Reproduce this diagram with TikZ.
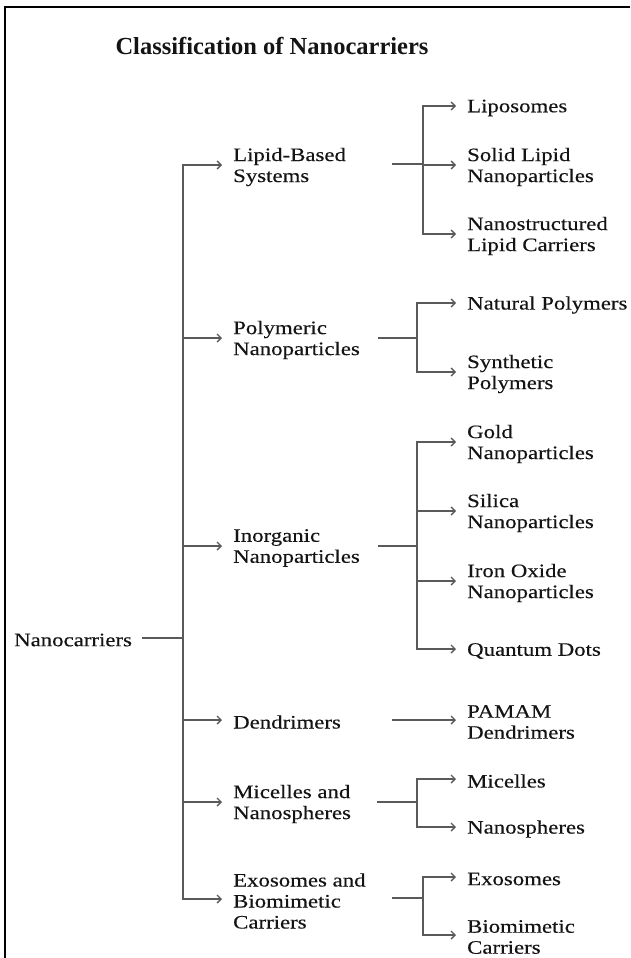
\documentclass[tikz,border=0pt]{standalone}
\usepackage{fontspec}
\usetikzlibrary{arrows.meta}
\newfontfamily\bodyfont[FakeStretch=1.2,FakeBold=0.3]{Liberation Serif}
\newfontfamily\titlefont{Liberation Serif}
\definecolor{txt}{HTML}{141414}
\definecolor{ln}{HTML}{5A5A5A}
\begin{document}
\begin{tikzpicture}[x=1pt,y=-1pt,
  lbl/.style={font=\bodyfont\fontsize{19}{21}\selectfont, text=txt, align=left, anchor=west, inner sep=0pt, yshift=-2pt},
  conn/.style={draw=ln, line width=1.4pt},
  arr/.style={conn, -{Straight Barb[length=4pt,width=8pt]}, shorten >=11pt},
  ]
\useasboundingbox (0,0) rectangle (630,958);
\draw[line width=2.5pt] (630,7) -- (5,7) -- (5,958);

\node[font=\titlefont\bfseries\fontsize{24.5}{28}\selectfont, text=txt, anchor=base] (title) at (272,55) {Classification of Nanocarriers};

% root
\node[lbl] (root) at (14,638) {Nanocarriers};
\coordinate (trunk) at (183,638);

% level 1
\node[lbl] (L1) at (233,165) {Lipid-Based\\Systems};
\node[lbl] (L2) at (233,338) {Polymeric\\Nanoparticles};
\node[lbl] (L3) at (233,546) {Inorganic\\Nanoparticles};
\node[lbl] (L4) at (233,720) {Dendrimers};
\node[lbl] (L5) at (233,802) {Micelles and\\Nanospheres};
\node[lbl] (L6) at (233,899) {Exosomes and\\Biomimetic\\Carriers};

% level 2
\node[lbl] (C11) at (467,106) {Liposomes};
\node[lbl] (C12) at (467,165) {Solid Lipid\\Nanoparticles};
\node[lbl] (C13) at (467,234) {Nanostructured\\Lipid Carriers};
\node[lbl] (C21) at (467,303) {Natural Polymers};
\node[lbl] (C22) at (467,372) {Synthetic\\Polymers};
\node[lbl] (C31) at (467,442) {Gold\\Nanoparticles};
\node[lbl] (C32) at (467,511) {Silica\\Nanoparticles};
\node[lbl] (C33) at (467,581) {Iron Oxide\\Nanoparticles};
\node[lbl] (C34) at (467,649) {Quantum Dots};
\node[lbl] (C41) at (467,720) {PAMAM\\Dendrimers};
\node[lbl] (C51) at (467,779) {Micelles};
\node[lbl] (C52) at (467,827) {Nanospheres};
\node[lbl] (C61) at (467,877) {Exosomes};
\node[lbl] (C62) at (467,935) {Biomimetic\\Carriers};

% branch points
\coordinate (s1) at (392,164); \coordinate (b1) at (423,164);
\coordinate (s2) at (378,338); \coordinate (b2) at (417,338);
\coordinate (s3) at (378,546); \coordinate (b3) at (417,546);
\coordinate (s4) at (392,720);
\coordinate (s5) at (377,802); \coordinate (b5) at (417,802);
\coordinate (s6) at (392,898); \coordinate (b6) at (423,898);

% root connectors
\draw[conn] ([xshift=10pt,yshift=2pt]root.east) -- (trunk);
\foreach \n in {L1,L2,L3,L4,L5,L6} \draw[arr] (trunk) |- ([yshift=2pt]\n.west);

% level-1 to level-2
\draw[conn] (s1) -- (b1);
\foreach \c in {C11,C12,C13} \draw[arr] (b1) |- ([yshift=2pt]\c.west);
\draw[conn] (s2) -- (b2);
\foreach \c in {C21,C22} \draw[arr] (b2) |- ([yshift=2pt]\c.west);
\draw[conn] (s3) -- (b3);
\foreach \c in {C31,C32,C33,C34} \draw[arr] (b3) |- ([yshift=2pt]\c.west);
\draw[arr] (s4) -- ([yshift=2pt]C41.west);
\draw[conn] (s5) -- (b5);
\foreach \c in {C51,C52} \draw[arr] (b5) |- ([yshift=2pt]\c.west);
\draw[conn] (s6) -- (b6);
\foreach \c in {C61,C62} \draw[arr] (b6) |- ([yshift=2pt]\c.west);
\end{tikzpicture}
\end{document}
